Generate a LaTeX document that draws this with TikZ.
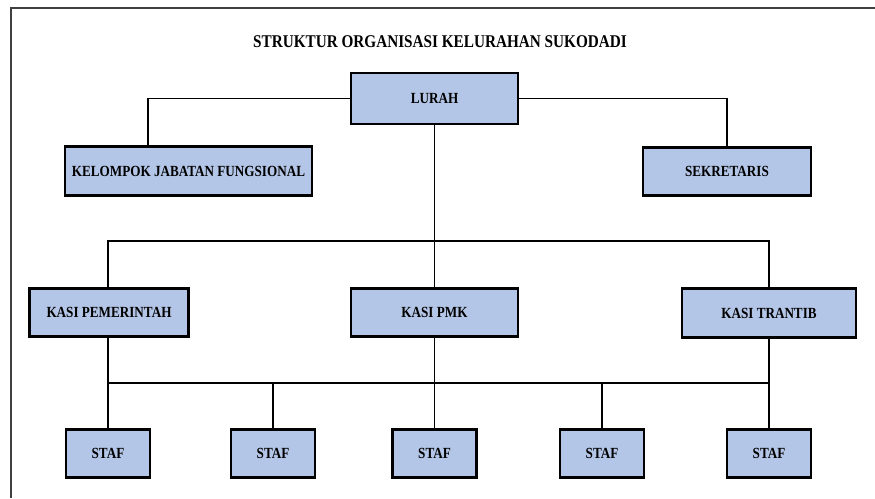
\documentclass[tikz,border=0pt]{standalone}
\usepackage{fontspec}
\setmainfont{Liberation Serif}[FakeStretch=0.85]
\usepackage{xcolor}
\definecolor{boxblue}{RGB}{180,198,231}

\begin{document}
\begin{tikzpicture}[x=0.02cm,y=-0.02cm,
    unit/.style={shape=rectangle,
      draw=black,
      line width=1.6pt,
      fill=boxblue,
      minimum height = 0.97cm,
      font=\fontsize{8.8}{10}\selectfont\bfseries},
    link/.style={line width=0.9pt,draw=black}]
    \useasboundingbox (0,0) rectangle (875,498);
    %\draw[help lines] (0,0) grid (875,498); % Only for Development

    % frame (only top and left edges visible)
    \draw[line width=1.2pt,draw=black!75] (11,498) -- (11,8) -- (875,8);

    \node (title) [font=\fontsize{10.2}{12}\selectfont\bfseries] at (440,42) {STRUKTUR ORGANISASI KELURAHAN SUKODADI};

    % top level
    \node (lurah) [unit,minimum width = 3.34cm,minimum height = 1.02cm] at (434.5,98.5) {LURAH};
    \node (kjf) [unit,minimum width = 4.94cm] at (188.5,171) {KELOMPOK JABATAN FUNGSIONAL};
    \node (sek) [unit,minimum width = 3.36cm] at (727,171.5) {SEKRETARIS};

    % kasi
    \node (kpem) [unit,minimum width = 3.18cm] at (109,312.5) {KASI PEMERINTAH};
    \node (kpmk) [unit,minimum width = 3.34cm] at (434.5,312.5) {KASI PMK};
    \node (ktr) [unit,minimum width = 3.48cm] at (769,313) {KASI TRANTIB};

    % staf
    \node (staf1) [unit,minimum width = 1.68cm] at (108,453.5) {STAF};
    \node (staf2) [unit,minimum width = 1.68cm] at (273,453.5) {STAF};
    \node (staf3) [unit,minimum width = 1.68cm] at (434.5,453.5) {STAF};
    \node (staf4) [unit,minimum width = 1.68cm] at (602,453.5) {STAF};
    \node (staf5) [unit,minimum width = 1.68cm] at (769,453.5) {STAF};

    \coordinate (kjfjoin) at (148,147);
    \coordinate (busA) at (434.5,241);
    \coordinate (busB) at (434.5,383);

    \draw[link] (lurah.west) -| (kjfjoin |- kjf.north);
    \draw[link] (lurah.east) -| (sek.north);
    \draw[link] (lurah.south) -- (busA);
    \draw[link] (staf1.north |- kpem.north) |- (busA) -| (ktr.north);
    \draw[link] (busA) -- (kpmk.north);

    \draw[link] (staf1.north |- kpem.south) -- (staf1.north);
    \draw[link] (kpmk.south) -- (staf3.north);
    \draw[link] (ktr.south) -- (staf5.north);
    \draw[link] (staf1.north |- busB) -- (staf5.north |- busB);
    \draw[link] (staf2.north |- busB) -- (staf2.north);
    \draw[link] (staf4.north |- busB) -- (staf4.north);
  \end{tikzpicture}
\end{document}
